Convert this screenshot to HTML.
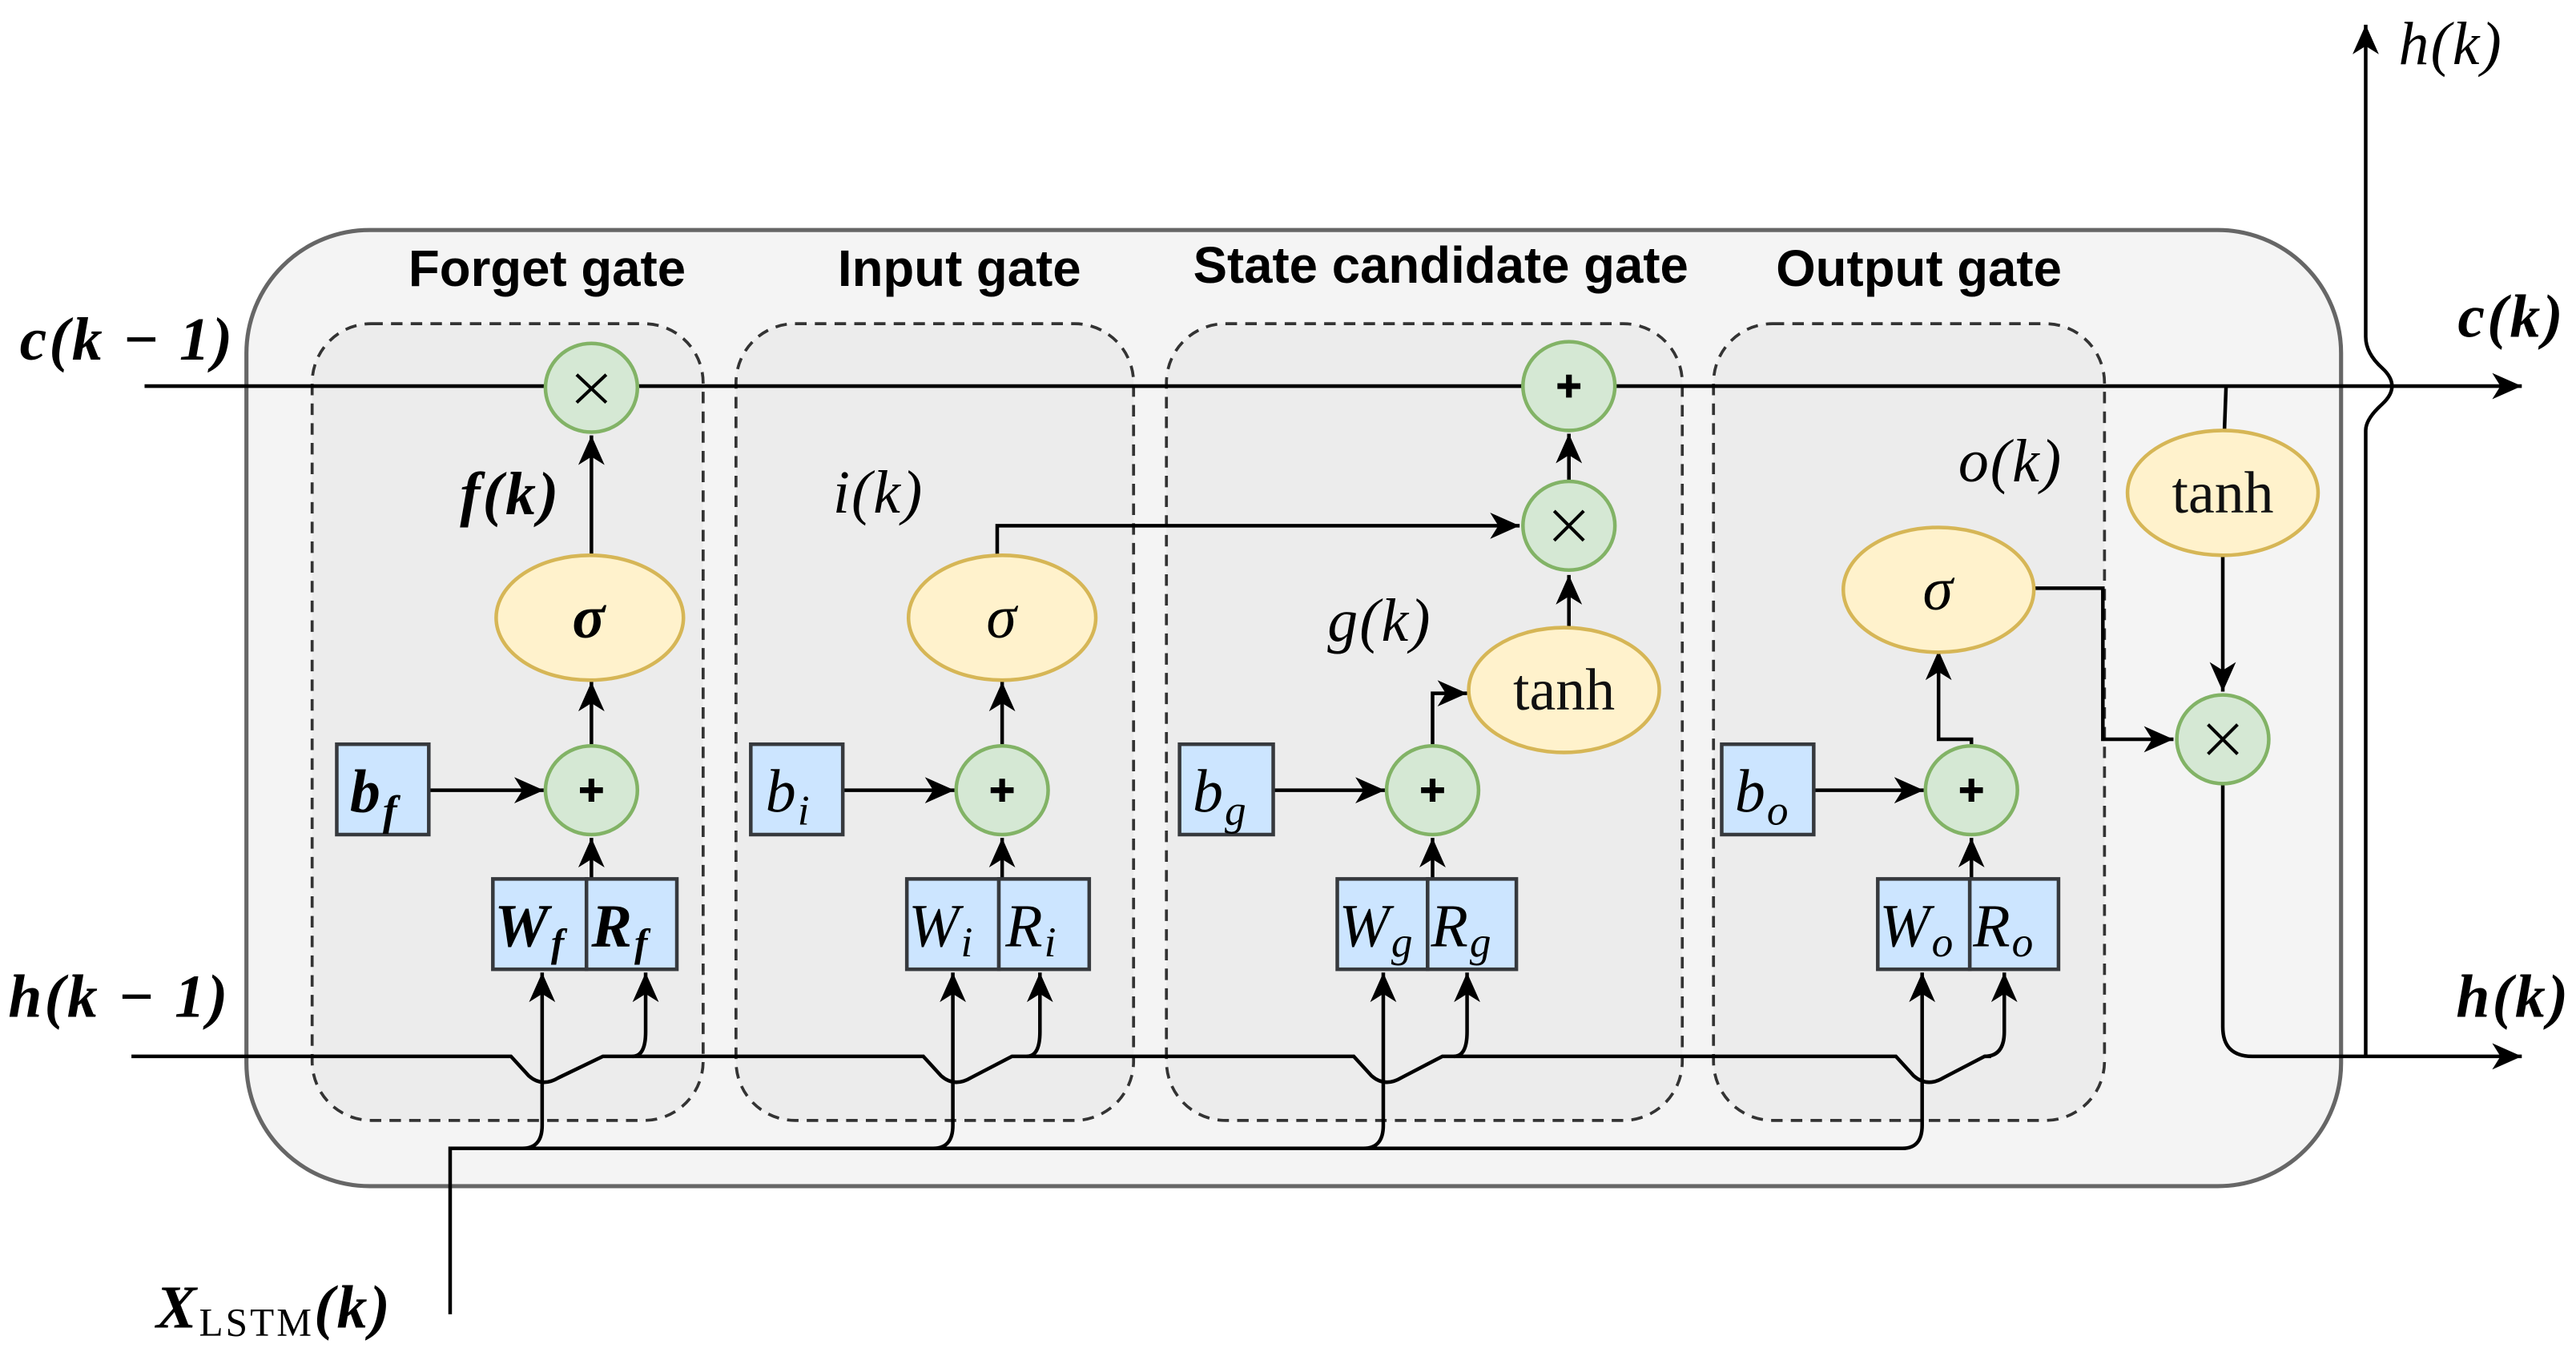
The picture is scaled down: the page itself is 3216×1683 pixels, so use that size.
<!DOCTYPE html>
<html><head><meta charset="utf-8"><style>
html,body{margin:0;padding:0;background:#fff;}
svg{display:block;}
.t{font-family:"Liberation Sans",sans-serif;font-weight:bold;font-size:31px;fill:#000;}
.m{font-family:"Liberation Serif",serif;font-style:italic;font-size:37px;fill:#000;letter-spacing:1px;}
.mb{font-family:"Liberation Serif",serif;font-style:italic;font-weight:bold;font-size:37px;fill:#000;letter-spacing:1.5px;}
.r{font-family:"Liberation Serif",serif;font-size:36px;fill:#111;}
</style></head><body>
<svg width="3216" height="1683" viewBox="0 0 1568 820.5" xmlns="http://www.w3.org/2000/svg">
<defs>
<marker id="a" markerUnits="userSpaceOnUse" markerWidth="20" markerHeight="16" refX="18" refY="8" orient="auto">
<path d="M0,0 L18,8 L0,16 L5,8 Z" fill="#000"/>
</marker>
</defs>
<g stroke-linecap="butt">
<rect x="150" y="140" width="1275" height="582" rx="75" fill="#f4f4f4" stroke="#666" stroke-width="2.5"/>
<g fill="#ececec" stroke="#333" stroke-width="1.8" stroke-dasharray="7,5">
<rect x="190" y="197" width="238" height="485" rx="36"/>
<rect x="448" y="197" width="242" height="485" rx="36"/>
<rect x="710" y="197" width="314" height="485" rx="36"/>
<rect x="1043" y="197" width="238" height="485" rx="36"/>
</g>
</g>
<text class="t" x="333" y="174" text-anchor="middle">Forget gate</text>
<text class="t" x="584" y="174" text-anchor="middle">Input gate</text>
<text class="t" x="877" y="172" text-anchor="middle">State candidate gate</text>
<text class="t" x="1168" y="174" text-anchor="middle">Output gate</text>

<g fill="none" stroke="#000" stroke-width="2.2">
<path d="M88 235 L1535 235" marker-end="url(#a)"/>
<path d="M1440 643 L1440 262 Q1440 255 1450 246 Q1462 235 1450 224 Q1440 215 1440 205 L1440 15" marker-end="url(#a)"/>
<path d="M80 643 L311 643 L322 655 Q330 662 340 656 L367 643 L562 643 L573 655 Q581 662 591 656 L616 643 L824 643 L835 655 Q843 662 853 656 L878 643 L1154 643 L1165 655 Q1173 662 1183 656 L1208 643 L1212 643"/>
<path d="M385 643 Q393 643 393 628 L393 592" marker-end="url(#a)"/>
<path d="M625 643 Q633 643 633 628 L633 592" marker-end="url(#a)"/>
<path d="M885 643 Q893 643 893 628 L893 592" marker-end="url(#a)"/>
<path d="M1208 643 Q1220 643 1220 628 L1220 592" marker-end="url(#a)"/>
<path d="M274 800 L274 699 L1160 699"/>
<path d="M318 699 Q330 699 330 685 L330 592" marker-end="url(#a)"/>
<path d="M568 699 Q580 699 580 685 L580 592" marker-end="url(#a)"/>
<path d="M830 699 Q842 699 842 685 L842 592" marker-end="url(#a)"/>
<path d="M1158 699 Q1170 699 1170 685 L1170 592" marker-end="url(#a)"/>
<path d="M360 338 L360 265" marker-end="url(#a)"/>
<path d="M360 453 L360 415" marker-end="url(#a)"/>
<path d="M261 481 L331 481" marker-end="url(#a)"/>
<path d="M360 535 L360 510" marker-end="url(#a)"/>
<path d="M607 338 L607 320 L925 320" marker-end="url(#a)"/>
<path d="M610 453 L610 415" marker-end="url(#a)"/>
<path d="M513 481 L581 481" marker-end="url(#a)"/>
<path d="M610 535 L610 510" marker-end="url(#a)"/>
<path d="M955 382 L955 350" marker-end="url(#a)"/>
<path d="M955 292 L955 264" marker-end="url(#a)"/>
<path d="M872 453 L872 422 L893 422" marker-end="url(#a)"/>
<path d="M775 481 L843 481" marker-end="url(#a)"/>
<path d="M872 535 L872 510" marker-end="url(#a)"/>
<path d="M1200 453 L1200 450 L1180 450 L1180 396" marker-end="url(#a)"/>
<path d="M1104 481 L1171 481" marker-end="url(#a)"/>
<path d="M1200 535 L1200 510" marker-end="url(#a)"/>
<path d="M1238 358 L1280 358 L1280 450 L1323 450" marker-end="url(#a)"/>
<path d="M1355 235 L1354 262"/>
<path d="M1353 338 L1353 421" marker-end="url(#a)"/>
<path d="M1353 478 L1353 625 Q1353 643 1371 643 L1535 643" marker-end="url(#a)"/>
</g>

<g fill="#fff2cc" stroke="#d6b656" stroke-width="2.2">
<ellipse cx="359" cy="376" rx="57" ry="38"/>
<ellipse cx="610" cy="376" rx="57" ry="38"/>
<ellipse cx="952" cy="420" rx="58" ry="38"/>
<ellipse cx="1180" cy="359" rx="58" ry="38"/>
<ellipse cx="1353" cy="300" rx="58" ry="38"/>
</g>
<g fill="#d5e8d4" stroke="#82b366" stroke-width="2.2">
<ellipse cx="360" cy="236" rx="28" ry="27"/>
<ellipse cx="360" cy="481" rx="28" ry="27"/>
<ellipse cx="610" cy="481" rx="28" ry="27"/>
<ellipse cx="955" cy="235" rx="28" ry="27"/>
<ellipse cx="955" cy="320" rx="28" ry="27"/>
<ellipse cx="872" cy="481" rx="28" ry="27"/>
<ellipse cx="1200" cy="481" rx="28" ry="27"/>
<ellipse cx="1353" cy="450" rx="28" ry="27"/>
</g>
<g stroke="#000" stroke-width="2">
<path d="M351 228 L369 245 M369 228 L351 245"/>
<path d="M946 311 L964 329 M964 311 L946 329"/>
<path d="M1344 441 L1362 459 M1362 441 L1344 459"/>
</g>
<g stroke="#000" stroke-width="3.5">
<path d="M353 481 H367 M360 474 V488"/>
<path d="M603 481 H617 M610 474 V488"/>
<path d="M948 235 H962 M955 228 V242"/>
<path d="M865 481 H879 M872 474 V488"/>
<path d="M1193 481 H1207 M1200 474 V488"/>
</g>

<g fill="#cce5ff" stroke="#36393d" stroke-width="2.2">
<rect x="205" y="453" width="56" height="55"/>
<rect x="457" y="453" width="56" height="55"/>
<rect x="718" y="453" width="57" height="55"/>
<rect x="1048" y="453" width="56" height="55"/>
<rect x="300" y="535" width="57" height="55"/><rect x="357" y="535" width="55" height="55"/>
<rect x="552" y="535" width="56" height="55"/><rect x="608" y="535" width="55" height="55"/>
<rect x="814" y="535" width="55" height="55"/><rect x="869" y="535" width="54" height="55"/>
<rect x="1143" y="535" width="56" height="55"/><rect x="1199" y="535" width="54" height="55"/>
</g>

<text class="mb" x="213" y="494">b<tspan font-size="26" dy="8">f</tspan></text>
<text class="mb" x="301" y="576" letter-spacing="0">W<tspan font-size="24" dy="6">f</tspan></text>
<text class="mb" x="360" y="576" letter-spacing="0">R<tspan font-size="24" dy="6">f</tspan></text>
<text class="m" x="466" y="494">b<tspan font-size="26" dy="8">i</tspan></text>
<text class="m" x="553" y="576" letter-spacing="0">W<tspan font-size="26" dy="6">i</tspan></text>
<text class="m" x="612" y="576" letter-spacing="0">R<tspan font-size="26" dy="6">i</tspan></text>
<text class="m" x="726" y="494">b<tspan font-size="26" dy="8">g</tspan></text>
<text class="m" x="815" y="576" letter-spacing="0">W<tspan font-size="26" dy="6">g</tspan></text>
<text class="m" x="871" y="576" letter-spacing="0">R<tspan font-size="26" dy="6">g</tspan></text>
<text class="m" x="1056" y="494">b<tspan font-size="26" dy="8">o</tspan></text>
<text class="m" x="1144" y="576" letter-spacing="0">W<tspan font-size="26" dy="6">o</tspan></text>
<text class="m" x="1201" y="576" letter-spacing="0">R<tspan font-size="26" dy="6">o</tspan></text>

<text class="mb" x="359" y="388" text-anchor="middle">σ</text>
<text class="m" x="610" y="388" text-anchor="middle">σ</text>
<text class="m" x="1180" y="371" text-anchor="middle">σ</text>
<text class="r" x="952" y="432" text-anchor="middle">tanh</text>
<text class="r" x="1353" y="312" text-anchor="middle">tanh</text>

<text class="mb" x="280" y="313">f(k)</text>
<text class="m" x="507" y="312">i(k)</text>
<text class="m" x="808" y="390">g(k)</text>
<text class="m" x="1192" y="293">o(k)</text>

<text class="mb" x="12" y="219">c(k − 1)</text>
<text class="mb" x="5" y="619">h(k − 1)</text>
<text class="mb" x="1496" y="205">c(k)</text>
<text class="m" x="1460" y="39">h(k)</text>
<text class="mb" x="1495" y="619">h(k)</text>
<text class="mb" x="95" y="808" font-style="normal">X<tspan font-size="24" font-weight="normal" font-style="normal" dy="5">LSTM</tspan><tspan dy="-5" font-style="italic">(k)</tspan></text>
</svg>
</body></html>
